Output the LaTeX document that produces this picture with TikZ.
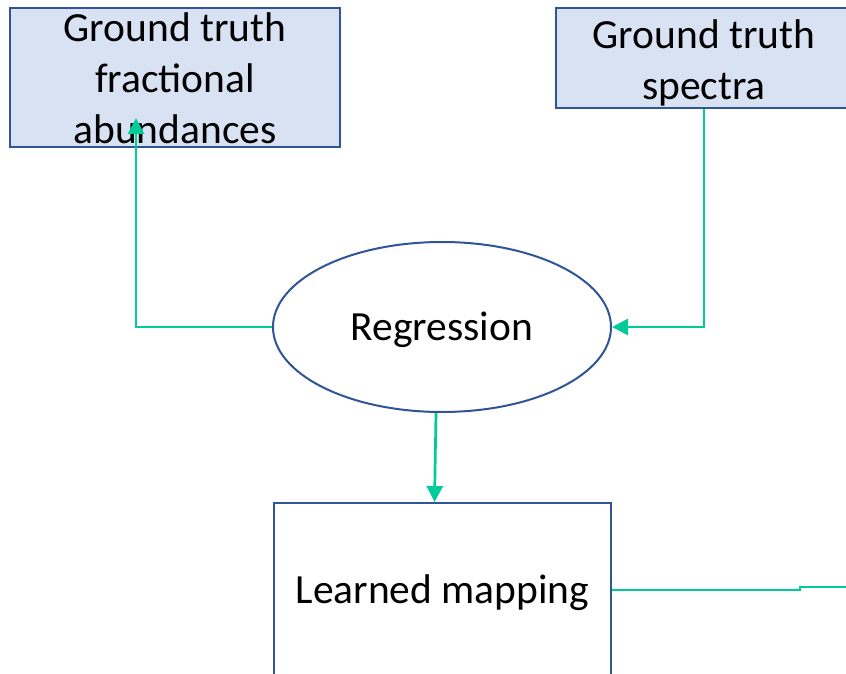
\documentclass[tikz,border=0pt]{standalone}
\usepackage{fontspec}
\setmainfont{Carlito}
\usetikzlibrary{arrows.meta,shapes.geometric,calc}
\definecolor{boxfill}{HTML}{D9E2F3}
\definecolor{boxline}{HTML}{2F5597}
\definecolor{flow}{HTML}{00CC99}
\tikzset{
  every node/.style={font=\fontsize{41.5}{51}\selectfont, text=black},
  gtbox/.style={draw=boxline, line width=2pt, fill=boxfill, rectangle, align=center, inner sep=0pt},
  procbox/.style={draw=boxline, line width=2pt, fill=white, rectangle, align=center, inner sep=0pt},
  regell/.style={draw=boxline, line width=2pt, fill=white, ellipse, inner sep=0pt},
  link/.style={draw=flow, line width=2.7pt},
  linkarrow/.style={link, -{Triangle[width=16pt,length=16pt]}}
}
\begin{document}
\begin{tikzpicture}[x=1pt,y=-1pt]
  \useasboundingbox (0,0) rectangle (846,674);
  \clip (0,0) rectangle (846,674);

  % ground-truth inputs
  \node[gtbox, minimum width=330pt, minimum height=139pt] (abund) at (175,77.5) {};
  \node (abundlabel) at (175,78) [align=center] {Ground truth\\fractional\\abundances};
  \node[gtbox, minimum width=296pt, minimum height=100pt] (spec) at (704,58) {};
  \node (speclabel) at (704,63) [align=center] {Ground truth\\spectra};

  % regression step and learned mapping
  \node[regell, minimum width=338pt, minimum height=170pt] (reg) at (442,327) {};
  \node (reglabel) at (442,330) {Regression};
  \node[procbox, minimum width=337pt, minimum height=200pt] (map) at (442.5,603) {};
  \node (maplabel) at (442.5,593) {Learned mapping};

  % end points of the open connectors
  \coordinate (abundin) at (136,118);
  \coordinate (mapout) at (860,587);

  % connectors
  \draw[linkarrow] (reg.west) -| (abundin);
  \draw[linkarrow] (spec.south) |- (reg.east);
  \draw[linkarrow] ($(reg.south)+(-6,0)$) -- ($(map.north)+(-8,0)$);
  \draw[link] (map.east |- 0,590) -- (800,590) -- (800,587) -- (mapout);
\end{tikzpicture}
\end{document}
